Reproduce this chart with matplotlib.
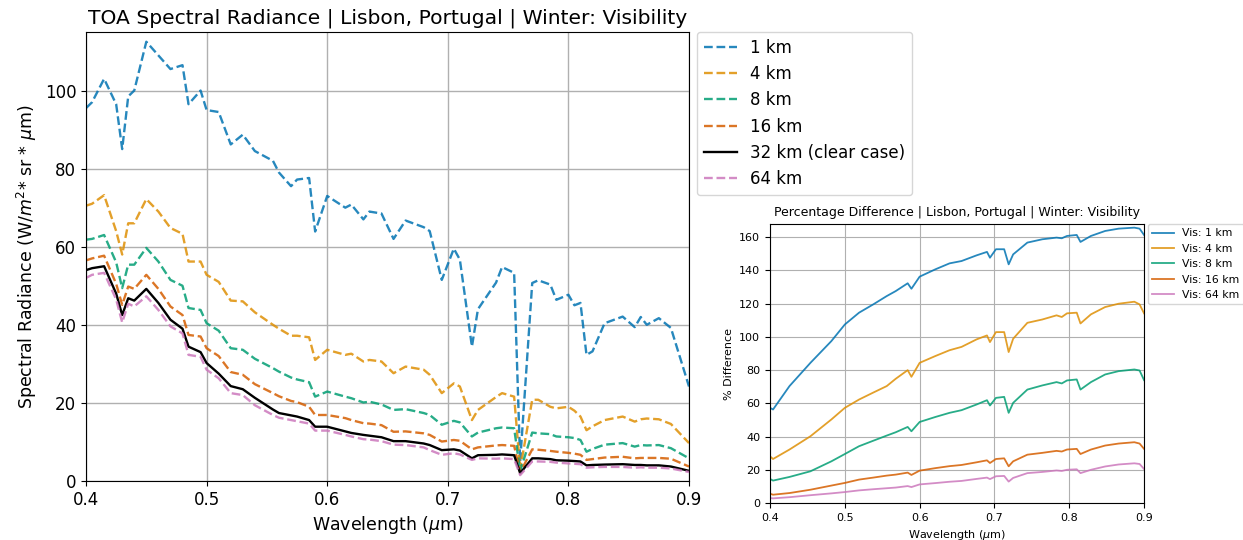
"""
TOA spectral radiance and percentage difference for several visibilities.
"""

import matplotlib
matplotlib.use('Agg')
import matplotlib.pyplot as plt

# Left panel: spectral radiance [W/m2 sr um]
# ----------------------------------------------------------------------------

wl = [0.400, 0.405, 0.415, 0.425, 0.430, 0.435, 0.440, 0.450, 0.460, 0.470,
      0.480, 0.485, 0.495, 0.500, 0.510, 0.520, 0.530, 0.540, 0.555, 0.560,
      0.570, 0.575, 0.585, 0.590, 0.600, 0.615, 0.620, 0.630, 0.635, 0.645,
      0.655, 0.665, 0.680, 0.685, 0.695, 0.705, 0.710, 0.720, 0.725, 0.740,
      0.745, 0.755, 0.760, 0.770, 0.775, 0.785, 0.790, 0.800, 0.805, 0.810,
      0.815, 0.820, 0.830, 0.845, 0.855, 0.860, 0.865, 0.875, 0.885, 0.900]

rad_1km = [95.5, 97, 103, 96.5, 85, 98.5, 100, 112.5, 109, 105.5,
           106.5, 96.5, 100, 95, 94.5, 86.2, 88.7, 84.5, 82, 79,
           75.5, 77.2, 77.6, 63.9, 73, 70, 70.8, 67, 69, 68.5,
           62, 66.7, 65, 64, 51.5, 59.5, 56.7, 34.4, 44, 50.8,
           54.8, 53.3, 5, 50.7, 51.4, 50.3, 46.4, 47.7, 45, 45.6,
           32.3, 33.2, 40.4, 42.1, 39.4, 42, 40, 41.7, 39.2, 24.2]

rad_4km = [70.5, 71, 73.2, 64, 58, 66, 66, 72.2, 69, 64.8,
           63.3, 56.2, 56.2, 52.8, 51, 46.2, 46, 43.2, 40, 39,
           37.2, 37.2, 36.8, 31, 33.6, 32.3, 32.6, 30.6, 31, 30.6,
           27.6, 29.3, 28.5, 27.2, 22.5, 25, 24.2, 15.6, 18.2, 21.5,
           22.5, 21.6, 3, 20.8, 20.8, 19, 18.6, 19, 18, 16.5,
           13, 14, 15.6, 16.5, 15.2, 15.8, 16, 15.8, 14.6, 9.7]

rad_8km = [61.8, 62, 63, 56, 49.4, 55.4, 55.4, 59.7, 56.2, 51.5,
           50, 44.3, 43.8, 40.4, 38.5, 34, 33.6, 31.3, 28.9, 28,
           26.5, 26, 25.3, 21.6, 22.9, 21.6, 21.2, 20.1, 20.3, 19.6,
           18.2, 18.4, 17.4, 16.9, 14.4, 15.4, 15, 11.4, 12.4, 13.5,
           13.7, 13.5, 2.5, 12.4, 12.2, 12, 11.4, 11.2, 11, 10.5,
           7.5, 8.2, 9.3, 9.7, 8.8, 9.2, 9.1, 9.2, 8.4, 5.8]

rad_16km = [56.5, 57, 57.7, 50.5, 45.1, 49.8, 49.2, 52.8, 49.2, 44.7,
            42.5, 37.4, 37, 34, 32, 27.9, 27.2, 24.8, 22.5, 21.7,
            20.5, 20.2, 19, 16.9, 16.9, 16.1, 15.6, 14.8, 14.7, 14.3,
            12.6, 12.7, 12.2, 11.8, 10.1, 10.5, 10.3, 8.1, 8.6, 9.1,
            9.2, 9, 2.2, 8.1, 8, 7.7, 7.5, 7.2, 7, 6.7,
            5.4, 5.6, 6, 6.2, 5.8, 5.9, 5.9, 5.9, 5.7, 3.7]

rad_32km = [54, 54.5, 55, 48, 42.5, 46.8, 46.2, 49.2, 45.6, 41.3,
            39, 34.4, 33, 30.2, 27.5, 24.3, 23.5, 21.3, 18.3, 17.4,
            16.8, 16.5, 15.6, 13.9, 13.9, 12.7, 12.3, 11.8, 11.6, 11.2,
            10.2, 10.2, 9.6, 9.2, 7.9, 8.1, 7.8, 5.8, 6.6, 6.7,
            6.8, 6.6, 2, 5.8, 5.8, 5.6, 5.3, 5.2, 5.1, 5,
            4, 4.1, 4.2, 4.3, 4.1, 4.1, 4, 4, 3.7, 2.6]

rad_64km = [52, 52.8, 53.3, 46.5, 40.6, 45.4, 44.7, 47.3, 43.8, 39.6,
            37.8, 32.3, 31.8, 28.5, 26.3, 22.5, 22, 19.4, 16.9, 16.2,
            15.6, 15.3, 14.7, 12.9, 12.9, 11.8, 11.4, 10.7, 10.6, 10.2,
            9.3, 9.2, 8.6, 7.9, 6.7, 7.1, 6.8, 5.4, 5.8, 5.7,
            5.8, 5.6, 1.5, 5, 5, 4.9, 4.7, 4.5, 4.4, 4.3,
            3.4, 3.5, 3.6, 3.6, 3.4, 3.5, 3.4, 3.4, 3.2, 2.3]

# Right panel: percentage difference relative to the clear case [%]
# ----------------------------------------------------------------------------

wl_pct = [0.400, 0.404, 0.426, 0.454, 0.482, 0.500, 0.519, 0.538, 0.556,
          0.568, 0.584, 0.589, 0.600, 0.621, 0.640, 0.656, 0.676, 0.690,
          0.694, 0.702, 0.713, 0.719, 0.725, 0.744, 0.764, 0.783, 0.790,
          0.797, 0.810, 0.815, 0.829, 0.848, 0.866, 0.887, 0.894, 0.900]

pct_1km = [57.3, 56.3, 70.4, 84.4, 97.5, 107.5, 114.6, 119.6, 124.6,
           127.6, 132.3, 129, 136.3, 140.7, 144.3, 145.7, 149.1, 151.2,
           147.7, 152.8, 152.8, 143.7, 149.7, 156.8, 158.8, 159.8, 159.4,
           160.8, 161.4, 157.2, 160.8, 163.8, 165.2, 165.8, 165.2, 161.4]

pct_4km = [28.1, 26.5, 32.2, 40.2, 50.3, 57.3, 62.3, 66.5, 70.4,
           74.8, 80, 76, 84.4, 88.5, 92, 94, 98.5, 100.9,
           96.9, 102.9, 102.9, 90.9, 98.9, 108.5, 110.5, 113, 112,
           114.2, 114.6, 108.1, 113.6, 118, 120, 121.2, 119.6, 114.2]

pct_8km = [14.5, 13.5, 15.7, 19.1, 25.1, 29.5, 34.2, 37.5, 40.6,
           42.6, 45.8, 43.2, 48.8, 51.8, 54.3, 55.9, 59.3, 61.9,
           58.7, 63.3, 63.9, 54.3, 60.3, 68.3, 70.8, 72.8, 72,
           73.8, 74.4, 68.3, 72.8, 77.4, 79.4, 80.4, 79.8, 74]

pct_16km = [5.6, 5, 6, 8, 10.5, 12.1, 14.1, 15.3, 16.5,
            17.1, 18.3, 16.9, 19.5, 21, 22.2, 22.9, 24.5, 25.7,
            24.1, 26.5, 26.9, 22.1, 25.1, 29.1, 30.2, 31.4, 31,
            32.2, 32.6, 29.5, 32.2, 34.6, 35.8, 36.6, 35.8, 32.6]

pct_64km = [3, 2.8, 3.5, 4.7, 5.8, 6.6, 7.6, 8.3, 8.9,
            9.3, 10.2, 9.6, 11.2, 12, 12.8, 13.3, 14.5, 15.3,
            14.4, 16.1, 16.3, 12.9, 15.1, 18, 18.7, 19.6, 19.3,
            20, 20.3, 18, 20, 22, 23.2, 23.9, 23.5, 20.5]

colors = ['#0173b2', '#de8f05', '#029e73', '#d55e00', '#cc78bc']

# Figure
# ----------------------------------------------------------------------------

fig = plt.figure(figsize=(12.43, 5.4), dpi=100)

ax = fig.add_axes([0.0692, 0.1093, 0.4851, 0.8315])
ax.plot(wl, rad_1km, '--', color=colors[0], alpha=0.85, lw=1.7, label='1 km')
ax.plot(wl, rad_4km, '--', color=colors[1], alpha=0.85, lw=1.7, label='4 km')
ax.plot(wl, rad_8km, '--', color=colors[2], alpha=0.85, lw=1.7, label='8 km')
ax.plot(wl, rad_16km, '--', color=colors[3], alpha=0.85, lw=1.7, label='16 km')
ax.plot(wl, rad_32km, color='black', lw=1.7, label='32 km (clear case)')
ax.plot(wl, rad_64km, '--', color=colors[4], alpha=0.85, lw=1.7, label='64 km')
ax.set_xlim(0.4, 0.9)
ax.set_ylim(0, 115)
ax.set_yticks([0, 20, 40, 60, 80, 100])
ax.grid(True, color='#b0b0b0', lw=1)
ax.tick_params(labelsize=12)
ax.set_title('TOA Spectral Radiance | Lisbon, Portugal | Winter: Visibility', fontsize=14.6)
ax.set_xlabel(r'Wavelength ($\mu$m)', fontsize=12.5)
ax.set_ylabel(r'Spectral Radiance (W/$m^2$* sr * $\mu$m)', fontsize=12.5)
ax.legend(loc='upper left', bbox_to_anchor=(1.013, 1.0), borderaxespad=0, fontsize=12)

ax2 = fig.add_axes([0.6195, 0.0685, 0.3009, 0.5167])
ax2.plot(wl_pct, pct_1km, color=colors[0], alpha=0.85, lw=1.3, label='Vis: 1 km')
ax2.plot(wl_pct, pct_4km, color=colors[1], alpha=0.85, lw=1.3, label='Vis: 4 km')
ax2.plot(wl_pct, pct_8km, color=colors[2], alpha=0.85, lw=1.3, label='Vis: 8 km')
ax2.plot(wl_pct, pct_16km, color=colors[3], alpha=0.85, lw=1.3, label='Vis: 16 km')
ax2.plot(wl_pct, pct_64km, color=colors[4], alpha=0.85, lw=1.3, label='Vis: 64 km')
ax2.set_xlim(0.4, 0.9)
ax2.set_ylim(0, 168)
ax2.set_yticks(range(0, 161, 20))
ax2.grid(True, color='#b0b0b0', lw=0.8)
ax2.tick_params(labelsize=8)
ax2.set_title('Percentage Difference | Lisbon, Portugal | Winter: Visibility', fontsize=9)
ax2.set_xlabel(r'Wavelength ($\mu$m)', fontsize=8)
ax2.set_ylabel('% Difference', fontsize=8)
ax2.legend(loc='upper left', bbox_to_anchor=(1.01, 1.0), borderaxespad=0, fontsize=7.8)

fig.savefig('out.png', dpi=100)
